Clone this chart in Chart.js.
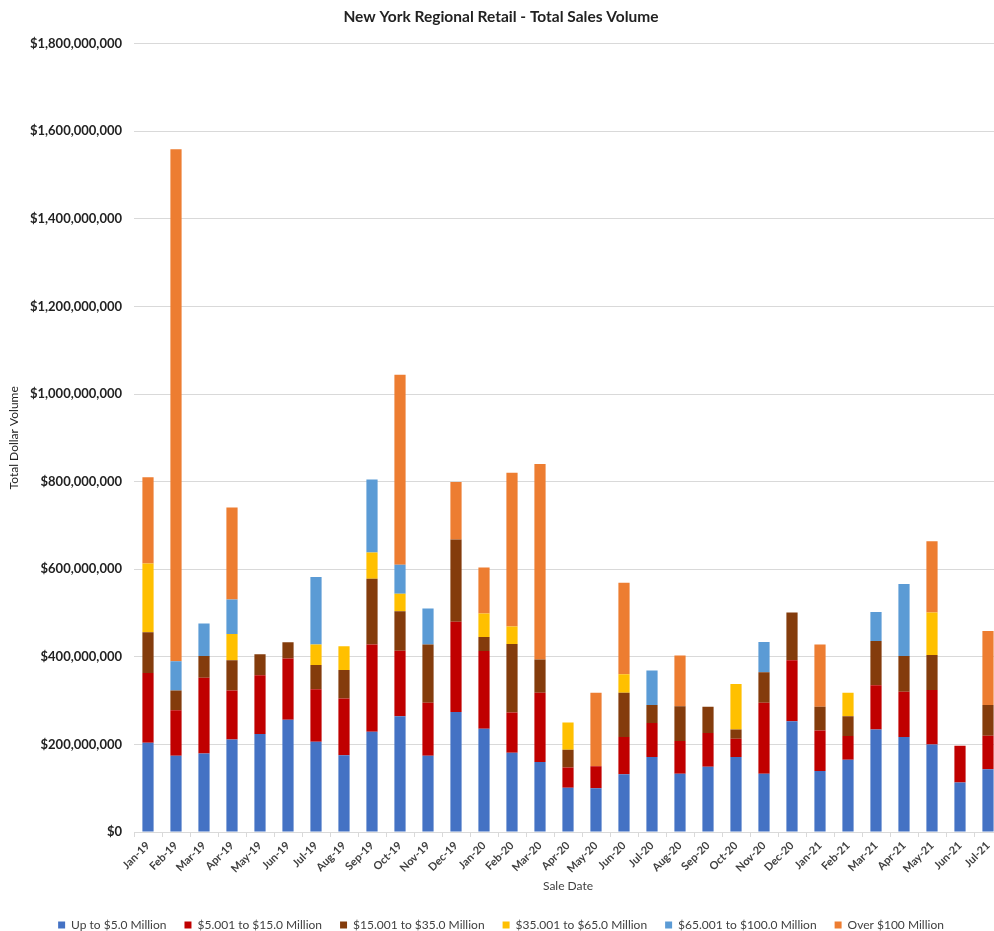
<!DOCTYPE html>
<html>
<head>
<meta charset="utf-8">
<script src="https://cdn.jsdelivr.net/npm/chart.js@4.4.0/dist/chart.umd.min.js"></script>
<style>
  html, body { margin: 0; padding: 0; background: #fff; overflow: hidden; }
  #wrap { width: 1004px; height: 941px; }
</style>
</head>
<body>
<div id="wrap"><canvas id="salesChart"></canvas></div>
<script>
// months on the x axis
const months = ["Jan-19", "Feb-19", "Mar-19", "Apr-19", "May-19", "Jun-19", "Jul-19", "Aug-19", "Sep-19", "Oct-19", "Nov-19", "Dec-19",
  "Jan-20", "Feb-20", "Mar-20", "Apr-20", "May-20", "Jun-20", "Jul-20", "Aug-20", "Sep-20", "Oct-20", "Nov-20", "Dec-20",
  "Jan-21", "Feb-21", "Mar-21", "Apr-21", "May-21", "Jun-21", "Jul-21"];

// values in millions of dollars
const upTo5 = [204, 174, 179, 211, 224, 256, 206, 175, 229, 264, 174, 274, 236, 181, 160, 101, 100, 132, 171, 133, 149, 171, 133, 253, 139, 165, 234, 217, 200, 113, 143];
const from5to15 = [159, 104, 173, 112, 134, 140, 120, 130, 199, 150, 121, 206, 177, 92, 158, 46, 50, 85, 78, 75, 77, 42, 162, 139, 93, 54, 101, 103, 124, 84, 77];
const from15to35 = [93, 45, 50, 69, 48, 37, 55, 65, 150, 90, 133, 188, 32, 156, 76, 41, 0, 101, 41, 79, 60, 21, 70, 109, 54, 45, 101, 82, 80, 0, 70];
const from35to65 = [157, 0, 0, 60, 0, 0, 47, 54, 60, 40, 0, 0, 54, 40, 0, 62, 0, 42, 0, 0, 0, 104, 0, 0, 0, 54, 0, 0, 97, 0, 0];
const from65to100 = [0, 67, 74, 79, 0, 0, 154, 0, 167, 66, 82, 0, 0, 0, 0, 0, 0, 0, 79, 0, 0, 0, 69, 0, 0, 0, 66, 164, 0, 0, 0];
const over100 = [197, 1169, 0, 210, 0, 0, 0, 0, 0, 434, 0, 131, 105, 351, 446, 0, 168, 209, 0, 116, 0, 0, 0, 0, 142, 0, 0, 0, 163, 0, 169];

const yTicks = [0, 200, 400, 600, 800, 1000, 1200, 1400, 1600, 1800];

const seriesNames = ["Up to $5.0 Million", "$5.001 to $15.0 Million", "$15.001 to $35.0 Million",
  "$35.001 to $65.0 Million", "$65.001 to $100.0 Million", "Over $100 Million"];
const seriesData = [upTo5, from5to15, from15to35, from35to65, from65to100, over100];
const seriesColors = ["#4472C4", "#C00000", "#843C0C", "#FFC000", "#5B9BD5", "#ED7D31"];

const FONT = "Lato, 'Open Sans', sans-serif";

const datasets = seriesNames.map((name, i) => ({
  label: name,
  data: seriesData[i].map(v => v * 1e6),
  backgroundColor: seriesColors[i],
  borderWidth: 0,
  barPercentage: 0.4,
  categoryPercentage: 1.0
}));

new Chart(document.getElementById("salesChart"), {
  type: "bar",
  data: { labels: months, datasets: datasets },
  options: {
    responsive: true,
    maintainAspectRatio: false,
    animation: false,
    layout: { padding: { left: 0, right: 2, top: 0, bottom: 0 } },
    plugins: {
      title: {
        display: true,
        text: "New York Regional Retail - Total Sales Volume",
        color: "#222",
        font: { family: FONT, size: 15.5, weight: "bold" },
        padding: { top: 8, bottom: 17 }
      },
      legend: {
        position: "bottom",
        labels: {
          color: "#404040",
          font: { family: FONT, size: 12 },
          boxWidth: 7,
          boxHeight: 7,
          padding: 18
        }
      },
      tooltip: { enabled: false }
    },
    scales: {
      x: {
        stacked: true,
        afterFit: axis => { axis.height = 69; },
        grid: { drawOnChartArea: false, drawTicks: true, tickLength: 5, color: "#d9d9d9", offset: true },
        border: { color: "#d9d9d9" },
        ticks: {
          color: "#404040",
          font: { family: FONT, size: 11, weight: "bold" },
          minRotation: 45,
          maxRotation: 45,
          autoSkip: false,
          padding: 2
        },
        title: {
          display: true,
          text: "Sale Date",
          color: "#404040",
          font: { family: FONT, size: 12 },
          padding: { top: 0, bottom: 8 }
        }
      },
      y: {
        stacked: true,
        min: 0,
        max: 1800e6,
        afterBuildTicks: axis => { axis.ticks = yTicks.map(v => ({ value: v * 1e6 })); },
        afterFit: axis => { axis.width = 134; },
        grid: { color: "#d9d9d9", drawTicks: false, lineWidth: 1 },
        border: { display: false },
        ticks: {
          color: "#222",
          font: { family: FONT, size: 13, weight: "bold" },
          padding: 12,
          callback: v => "$" + Math.round(v).toLocaleString("en-US")
        },
        title: {
          display: true,
          text: "Total Dollar Volume",
          color: "#222",
          font: { family: FONT, size: 12 },
          padding: { top: 7, bottom: 0 }
        }
      }
    }
  }
});
</script>
</body>
</html>
